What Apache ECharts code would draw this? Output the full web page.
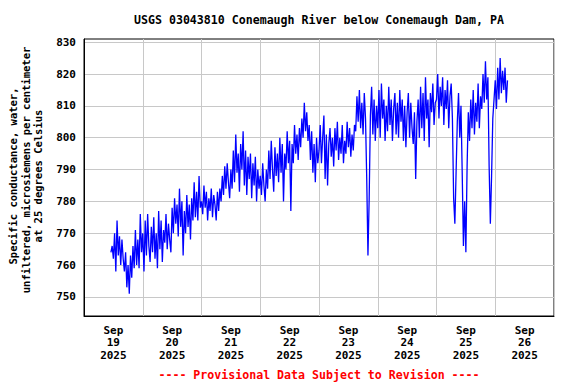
<!DOCTYPE html>
<html>
<head>
<meta charset="utf-8">
<script src="https://cdn.jsdelivr.net/npm/echarts@6/dist/echarts.min.js"></script>
<style>
html,body{margin:0;padding:0;background:#fff;}
#chart{width:576px;height:384px;}
</style>
</head>
<body>
<div id="chart"></div>
<script>
// Hours are counted from Sep 19 2025 00:00; values are half-hourly.
const sep19Start = 11.0;
const sep19 = [764,766,762,770,758,774,763,769,760,768,762,758,764,753,760,751,763,756,766,759,771,760,768,759,776,764];
const sep20Start = 24.0;
const sep20 = [770,758,774,763,776,766,761,772,764,775,762,770,759,777,765,774,761,771,767,776,765,773,768,764,778,770,781,773,779,769,784,772,780,763,777,770,782,772,779,768,781,774,786,775,783,774,788,778];
const sep21Start = 48.0;
const sep21 = [780,776,785,778,783,774,781,777,784,775,782,779,774,783,777,784,780,788,782,791,784,792,786,781,790,784,796,786,801,789,795,783,798,790,802,785,796,782,794,787,795,781,792,785,794,780,790,784];
const sep22Start = 72.0;
const sep22 = [788,782,792,785,780,790,784,796,787,799,790,783,797,788,795,786,800,789,798,780,795,790,802,792,799,777,798,792,804,795,801,793,803,797,806,800,811,802,808,799,804,793,802,789,798,786,800,792];
const sep23Start = 96.0;
const sep23 = [796,804,792,800,807,787,801,785,798,803,794,800,791,803,796,805,793,800,795,804,792,799,795,805,797,803,794,801,796,804,802,813,805,815,803,811,801,814,806,787,763,781,807,816,801,812,799,810];
const sep24Start = 120.0;
const sep24 = [803,815,800,817,806,812,799,810,802,816,804,812,799,809,814,801,811,800,815,805,812,799,810,797,808,814,800,811,803,798,808,787,805,812,800,816,803,814,799,819,806,812,797,814,808,817,804,811];
const sep25Start = 144.0;
const sep25 = [812,820,806,816,810,819,804,815,809,818,803,813,817,806,781,773,789,805,814,800,810,789,766,780,764,791,808,799,812,803,815,801,811,805,817,803,813,809,820,811,824,812,819,791,773,788,806,812];
const sep26Start = 168.0;
const sep26 = [818,809,822,812,825,814,821,815,822,811,818];

const dayLabels = ['Sep\n19\n2025','Sep\n20\n2025','Sep\n21\n2025','Sep\n22\n2025','Sep\n23\n2025','Sep\n24\n2025','Sep\n25\n2025','Sep\n26\n2025'];
const yTicks = [750,760,770,780,790,800,810,820,830];
const yMin = 744, yMax = 831;
const xMin = 0, xMax = 192;
const stepHours = 0.5;

const titleText = 'USGS 03043810 Conemaugh River below Conemaugh Dam, PA';
const yNameLines = ['Specific conductance, water,', 'unfiltered, microsiemens per centimeter', 'at 25 degrees Celsius'];
const footerText = '---- Provisional Data Subject to Revision ----';

const segments = [[sep19Start,sep19],[sep20Start,sep20],[sep21Start,sep21],[sep22Start,sep22],[sep23Start,sep23],[sep24Start,sep24],[sep25Start,sep25],[sep26Start,sep26]];
const data = [];
segments.forEach(([s, arr]) => arr.forEach((v, i) => data.push([s + i * stepHours, v])));

const midnights = [];
for (let h = xMin; h <= xMax; h += 24) midnights.push(h);
const noons = dayLabels.map((_, i) => 12 + 24 * i);

const FONT = '"DejaVu Sans Mono", monospace';
const chart = echarts.init(document.getElementById('chart'), null, {renderer: 'svg'});
chart.setOption({
  animation: false,
  backgroundColor: '#fff',
  grid: {left: 84, right: 22, top: 39, bottom: 68, show: true, borderColor: '#000', borderWidth: 1, backgroundColor: 'transparent'},
  xAxis: {
    type: 'value', min: xMin, max: xMax,
    axisLine: {show: true, lineStyle: {color: '#000', width: 1}},
    axisTick: {show: false, customValues: midnights},
    splitLine: {show: true, lineStyle: {color: '#c8c8c8', width: 1}},
    axisLabel: {
      customValues: noons, margin: 8, lineHeight: 12.5,
      fontFamily: FONT, fontWeight: 'bold', fontSize: 11, color: '#000',
      formatter: v => dayLabels[Math.round((v - 12) / 24)] || ''
    }
  },
  yAxis: {
    type: 'value', min: yMin, max: yMax,
    axisLine: {show: true, lineStyle: {color: '#000', width: 1}},
    axisTick: {show: false, customValues: yTicks},
    splitLine: {show: true, lineStyle: {color: '#c8c8c8', width: 1}},
    axisLabel: {customValues: yTicks, margin: 8, fontFamily: FONT, fontWeight: 'bold', fontSize: 11, color: '#000'}
  },
  graphic: [
    {type: 'text', style: {text: titleText, x: 319, y: 20, align: 'center', verticalAlign: 'middle', font: 'bold 11.6px ' + FONT, fill: '#000'}},
    {type: 'text', style: {text: footerText, x: 319, y: 375, align: 'center', verticalAlign: 'middle', font: 'bold 11.6px ' + FONT, fill: '#ff0000'}},
    {type: 'text', x: 13, y: 176, rotation: Math.PI / 2, style: {text: yNameLines[0], align: 'center', verticalAlign: 'middle', font: 'bold 10.5px ' + FONT, fill: '#000'}},
    {type: 'text', x: 25.5, y: 170, rotation: Math.PI / 2, style: {text: yNameLines[1], align: 'center', verticalAlign: 'middle', font: 'bold 10.5px ' + FONT, fill: '#000'}},
    {type: 'text', x: 38, y: 176, rotation: Math.PI / 2, style: {text: yNameLines[2], align: 'center', verticalAlign: 'middle', font: 'bold 10.5px ' + FONT, fill: '#000'}}
  ],
  series: [{
    type: 'line', data: data, showSymbol: false, symbol: 'none', sampling: null,
    lineStyle: {color: '#0000ff', width: 1.3}, itemStyle: {color: '#0000ff'}
  }]
});
</script>
</body>
</html>
